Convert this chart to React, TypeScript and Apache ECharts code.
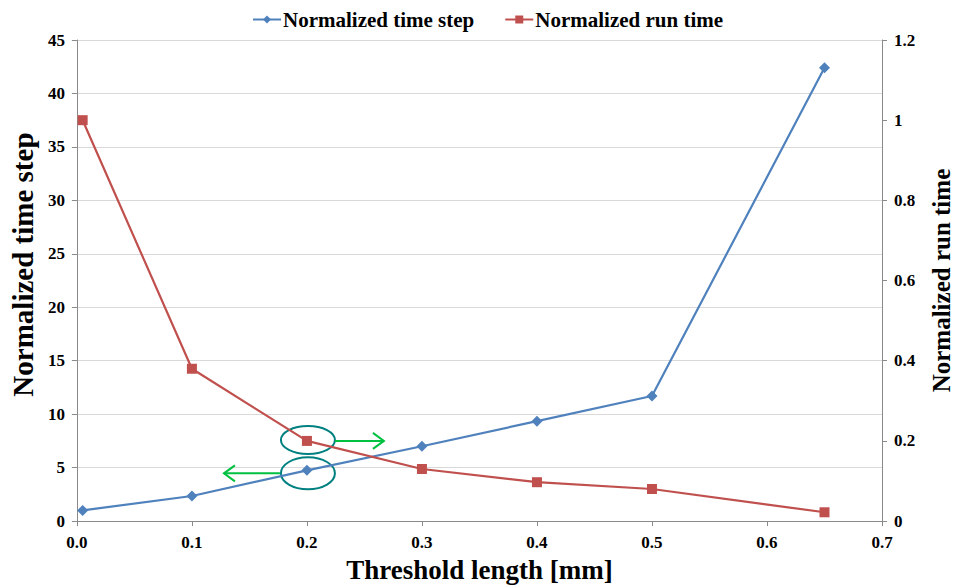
import React, { useEffect, useRef } from "react";
import * as echarts from "echarts";

const thresholdLength = [0.005, 0.1, 0.2, 0.3, 0.4, 0.5, 0.65];
const normalizedTimeStep = [1.0, 2.35, 4.75, 7.0, 9.35, 11.7, 42.4];
const normalizedRunTime = [1.0, 0.38, 0.2, 0.13, 0.097, 0.08, 0.022];
const seriesNames = ["Normalized time step", "Normalized run time"];

const FONT = "Liberation Serif";

export default function App() {
  const ref = useRef<HTMLDivElement>(null);
  useEffect(() => {
    if (!ref.current) return;
    const chart = echarts.init(ref.current, undefined, { renderer: "svg" });
    const axisLabel = { fontFamily: FONT, fontWeight: "bold", fontSize: 17, color: "#000" };
    const nameStyle = { fontFamily: FONT, fontWeight: "bold", color: "#000" };
    chart.setOption({
      animation: false,
      backgroundColor: "#fff",
      legend: {
        top: 4,
        left: 247,
        itemGap: 30,
        itemWidth: 28,
        itemHeight: 10,
        textStyle: { fontFamily: FONT, fontWeight: "bold", fontSize: 21, color: "#000", padding: [0, 0, 0, -3] },
        data: seriesNames,
      },
      grid: { left: 76, right: 74, top: 40, bottom: 66 },
      xAxis: {
        type: "value",
        min: 0,
        max: 0.7,
        interval: 0.1,
        name: "Threshold length [mm]",
        nameLocation: "middle",
        nameGap: 32,
        nameTextStyle: { ...nameStyle, fontSize: 27 },
        axisLine: { show: true, lineStyle: { color: "#8a8a8a" } },
        axisTick: { show: true, length: 5, lineStyle: { color: "#8a8a8a" } },
        axisLabel: { ...axisLabel, margin: 13, formatter: (v: number) => v.toFixed(1) },
        splitLine: { show: false },
      },
      yAxis: [
        {
          type: "value",
          min: 0,
          max: 45,
          interval: 5,
          name: "Normalized time step",
          nameLocation: "middle",
          nameGap: 36,
          nameTextStyle: { ...nameStyle, fontSize: 29, padding: [0, 0, 0, 32] },
          axisLine: { show: true, lineStyle: { color: "#8a8a8a" } },
          axisTick: { show: true, length: 5, lineStyle: { color: "#8a8a8a" } },
          axisLabel: { ...axisLabel, margin: 12 },
          splitLine: { show: true, lineStyle: { color: "#d9d9d9" } },
        },
        {
          type: "value",
          min: 0,
          max: 1.2,
          interval: 0.2,
          position: "right",
          name: "Normalized run time",
          nameLocation: "middle",
          nameGap: 47,
          nameTextStyle: { ...nameStyle, fontSize: 25 },
          axisLine: { show: true, lineStyle: { color: "#8a8a8a" } },
          axisTick: { show: true, length: 5, lineStyle: { color: "#8a8a8a" } },
          axisLabel: { ...axisLabel, margin: 12, formatter: (v: number) => (v === 0 || v === 1 ? String(v) : v.toFixed(1)) },
          splitLine: { show: false },
        },
      ],
      series: [
        {
          name: seriesNames[0],
          type: "line",
          yAxisIndex: 0,
          data: thresholdLength.map((x, i) => [x, normalizedTimeStep[i]]),
          symbol: "diamond",
          symbolSize: 11,
          itemStyle: { color: "#4F81BD" },
          lineStyle: { color: "#4F81BD", width: 2.2 },
        },
        {
          name: seriesNames[1],
          type: "line",
          yAxisIndex: 1,
          data: thresholdLength.map((x, i) => [x, normalizedRunTime[i]]),
          symbol: "rect",
          symbolSize: 10,
          itemStyle: { color: "#C0504D" },
          lineStyle: { color: "#C0504D", width: 2.2 },
        },
      ],
    });

    // annotations anchored to the data point at x = 0.2
    const idx = 2;
    const pRun = chart.convertToPixel({ xAxisIndex: 0, yAxisIndex: 1 }, [thresholdLength[idx], normalizedRunTime[idx]]) as number[];
    const pStep = chart.convertToPixel({ xAxisIndex: 0, yAxisIndex: 0 }, [thresholdLength[idx], normalizedTimeStep[idx]]) as number[];
    const teal = "#008080";
    const green = "#00c040";
    const rx = 27, ry = 14;
    chart.setOption({
      graphic: [
        { type: "ellipse", shape: { cx: pRun[0] + 1, cy: pRun[1] - 1, rx, ry }, style: { fill: "none", stroke: teal, lineWidth: 2 } },
        { type: "ellipse", shape: { cx: pStep[0] + 1, cy: pStep[1] + 3, rx, ry: 16 }, style: { fill: "none", stroke: teal, lineWidth: 2 } },
        { type: "line", shape: { x1: pRun[0] + rx + 1, y1: pRun[1], x2: pRun[0] + 77, y2: pRun[1] }, style: { stroke: green, lineWidth: 2 } },
        { type: "polyline", shape: { points: [[pRun[0] + 66, pRun[1] - 8], [pRun[0] + 77, pRun[1]], [pRun[0] + 66, pRun[1] + 8]] }, style: { stroke: green, lineWidth: 2, fill: "none" } },
        { type: "line", shape: { x1: pStep[0] - rx, y1: pStep[1] + 3, x2: pStep[0] - 83, y2: pStep[1] + 3 }, style: { stroke: green, lineWidth: 2 } },
        { type: "polyline", shape: { points: [[pStep[0] - 72, pStep[1] - 5], [pStep[0] - 83, pStep[1] + 3], [pStep[0] - 72, pStep[1] + 11]] }, style: { stroke: green, lineWidth: 2, fill: "none" } },
      ],
    });
    return () => chart.dispose();
  }, []);
  return <div ref={ref} style={{ width: 962, height: 588, position: "absolute", left: 0, top: 0 }} />;
}
